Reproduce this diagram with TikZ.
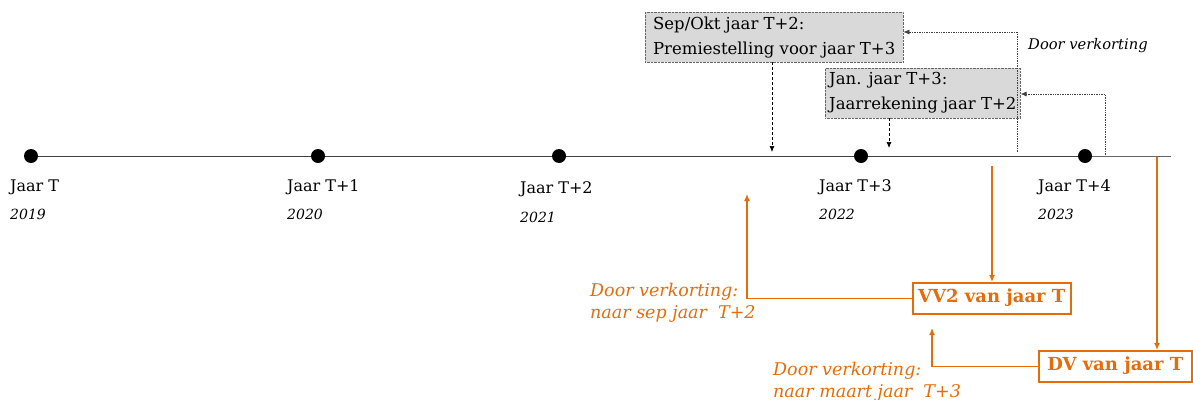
\documentclass[tikz,border=0pt]{standalone}
\usepackage{fontspec}
\setmainfont{DejaVu Serif}
\usetikzlibrary{arrows.meta,calc}
\definecolor{ora}{RGB}{228,108,10}
\definecolor{boxgrey}{RGB}{217,217,217}
\tikzset{
  dot/.style={circle,fill=black,minimum size=14pt,inner sep=0pt},
  yearlbl/.style={anchor=base west,inner sep=0pt,font=\fontsize{16}{18}\selectfont},
  yearit/.style={anchor=base west,inner sep=0pt,font=\fontsize{14}{16}\selectfont\itshape},
  greybox/.style={draw=black!60,densely dotted,fill=boxgrey,anchor=north west,align=left,inner xsep=4pt,inner ysep=1pt,
     font=\fontsize{16.5}{25}\selectfont},
  dasharrow/.style={densely dashed,-{Latex[length=6pt,width=5pt]},line width=0.7pt},
  dotarrow/.style={densely dotted,-{Latex[length=6pt,width=5pt]},line width=0.7pt,draw=black!75},
  obox/.style={draw=ora,line width=1.5pt,anchor=north west,text=ora,inner xsep=4pt,align=left,
     font=\fontsize{18}{18}\selectfont\bfseries,minimum height=31pt,text height=12pt,text depth=4pt},
  oarrow/.style={draw=ora,line width=1.3pt,-{Latex[length=7pt,width=6pt]}},
  otext/.style={text=ora,anchor=north west,align=left,inner sep=0pt,font=\fontsize{17.5}{21.5}\selectfont\itshape},
}
\begin{document}
\begin{tikzpicture}[x=1pt,y=-1pt]
\useasboundingbox (0,0) rectangle (1193,399);
% timeline
\coordinate (le) at (1171,156);
\node[dot] (d0) at (31,156) {};
\node[dot] (d1) at (318,156) {};
\node[dot] (d2) at (559,156) {};
\node[dot] (d3) at (861,156) {};
\node[dot] (d4) at (1085,156) {};
\draw[black!75,line width=0.9pt] (d0) -- (d1) -- (d2) -- (d3) -- (d4);
\draw[black!60,line width=0.9pt] (d4) -- (le);
% labels
\node[yearlbl] (l0) at (10,191) {Jaar T};
\node[yearit] (y0) at (10,219) {2019};
\node[yearlbl] (l1) at (287,191) {Jaar T+1};
\node[yearit] (y1) at (287,219) {2020};
\node[yearlbl] (l2) at (520,193) {Jaar T+2};
\node[yearit] (y2) at (520,222) {2021};
\node[yearlbl] (l3) at (819,191) {Jaar T+3};
\node[yearit] (y3) at (819,219) {2022};
\node[yearlbl] (l4) at (1038,191) {Jaar T+4};
\node[yearit] (y4) at (1038,219) {2023};
% grey boxes
\node[greybox,minimum width=258pt,minimum height=50pt] (b1) at (645,12)
  {Sep/Okt jaar T+2:\\Premiestelling voor jaar T+3};
\node[greybox,minimum width=195pt,minimum height=50pt] (b2) at (825,68)
  {Jan. jaar T+3:\\Jaarrekening jaar T+2};
\coordinate (a1) at (772,152);
\coordinate (a2) at (889,148);
\draw[dasharrow] (b1.south -| a1) -- (a1);
\draw[dasharrow] (b2.south -| a2) -- (a2);
\coordinate (c1) at (1017,152);
\coordinate (e1) at (1017,32);
\coordinate (c2) at (1105,155);
\coordinate (e2) at (1105,94);
\draw[dotarrow] (c1) -- (e1) -- (e1 -| b1.east);
\draw[dotarrow] (c2) -- (e2) -- (e2 -| b2.east);
\node[anchor=base west,inner sep=0pt,font=\fontsize{14.7}{16}\selectfont\itshape] (dv0) at (1028,49) {Door verkorting};
% orange
\node[obox,minimum width=158pt] (vv2) at (912,282) {VV2 van jaar T};
\node[obox,minimum width=153pt] (dv) at (1038,350) {DV van jaar T};
\coordinate (o1) at (992,166);
\coordinate (o2) at (747,194);
\coordinate (o3) at (1157,157);
\coordinate (o4) at (932,328);
\draw[oarrow] (o1) -- (o1 |- vv2.north);
\draw[oarrow] (vv2.west) -| (o2);
\draw[oarrow] (o3) -- (o3 |- dv.north);
\draw[oarrow] (dv.west) -| (o4);
\node[otext] (t1) at (590,283) {Door verkorting:\\naar sep jaar~~T+2};
\node[otext] (t2) at (773,362) {Door verkorting:\\naar maart jaar~~T+3};
\end{tikzpicture}
\end{document}
